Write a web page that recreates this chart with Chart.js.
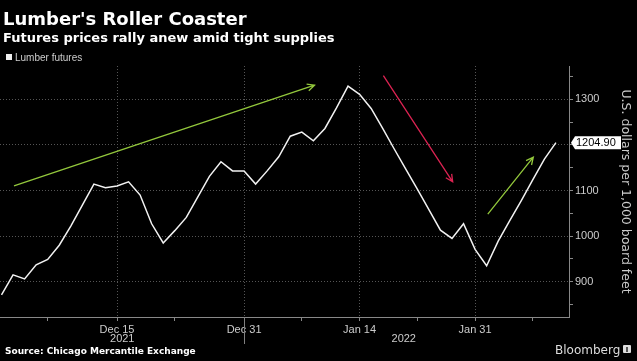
<!DOCTYPE html>
<html>
<head>
<meta charset="utf-8">
<script src="https://cdn.jsdelivr.net/npm/chart.js@4.4.0/dist/chart.umd.min.js"></script>
<style>
  html, body { margin: 0; padding: 0; background: #000; }
  #wrap { position: relative; width: 637px; height: 361px; overflow: hidden; background: #000; }
  #chart { position: absolute; left: 0; top: 0; }
  .txt { position: absolute; white-space: nowrap; line-height: 1; }
  #title { left: 3px; top: 8px; font: bold 18px "DejaVu Sans"; color: #fff; }
  #subtitle { left: 3px; top: 30px; font: bold 13px "DejaVu Sans"; color: #fff; }
  #legend { left: 15px; top: 52px; font: 10px "Liberation Sans"; color: #ccc; }
  #legend-box { position: absolute; left: 6px; top: 54px; width: 6px; height: 6px; background: #eee; }
  #source { left: 5px; top: 346px; font: bold 9px "DejaVu Sans"; color: #fff; }
  #brand { left: 555px; top: 343px; font: 12px "DejaVu Sans"; color: #ddd; }
  #logo { position: absolute; left: 623px; top: 345px; width: 8px; height: 8px; background: #ddd; border-radius: 1px; }
  #logo i { position: absolute; left: 3px; top: 2px; width: 2px; height: 5px; background: #555; }
</style>
</head>
<body>
<div id="wrap">
  <canvas id="chart" width="637" height="361"></canvas>
  <div class="txt" id="title">Lumber's Roller Coaster</div>
  <div class="txt" id="subtitle">Futures prices rally anew amid tight supplies</div>
  <div id="legend-box"></div>
  <div class="txt" id="legend">Lumber futures</div>
  <div class="txt" id="source">Source: Chicago Mercantile Exchange</div>
  <div class="txt" id="brand">Bloomberg</div>
  <div id="logo"><i></i></div>
</div>
<script>
// trading days, Dec 1 2021 -> Feb 9 2022
const DATES = [
  'Dec 1', 'Dec 2', 'Dec 3', 'Dec 6', 'Dec 7', 'Dec 8', 'Dec 9', 'Dec 10', 'Dec 13', 'Dec 14',
  'Dec 15', 'Dec 16', 'Dec 17', 'Dec 20', 'Dec 21', 'Dec 22', 'Dec 23', 'Dec 27', 'Dec 28', 'Dec 29',
  'Dec 30', 'Dec 31', 'Jan 3', 'Jan 4', 'Jan 5', 'Jan 6', 'Jan 7', 'Jan 10', 'Jan 11', 'Jan 12',
  'Jan 13', 'Jan 14', 'Jan 18', 'Jan 19', 'Jan 20', 'Jan 21', 'Jan 24', 'Jan 25', 'Jan 26', 'Jan 27',
  'Jan 28', 'Jan 31', 'Feb 1', 'Feb 2', 'Feb 3', 'Feb 4', 'Feb 7', 'Feb 8', 'Feb 9'
];

const PRICES = [
  871, 915, 906, 937, 949, 980, 1022, 1068, 1114, 1106,
  1110, 1119, 1090, 1027, 985, 1012, 1041, 1086, 1131, 1163,
  1143, 1143, 1114, 1143, 1174, 1219, 1228, 1209, 1236, 1281,
  1329, 1311, 1280, 1236, 1191, 1147, 1103, 1058, 1013, 995,
  1027, 971, 935, 989, 1034, 1078, 1124, 1169, 1204.90
];

const X_MAJOR = [10, 21, 31, 41];          // labelled dates
const X_MINOR = [4, 15, 26, 36, 46];
const YEARS = ['2021', '2022'];
const YEAR_SPLIT = 21;                     // Dec 31

const Y_TICKS = [850, 900, 950, 1000, 1050, 1100, 1150, 1200, 1250, 1300, 1350];
const Y_LABELS = [900, 1000, 1100, 1300];
const Y_GRID = [900, 1000, 1100, 1200, 1300];

// annotation arrows, in (day index, price)
const ARROW_FROM = [[1.08, 1110], [33.06, 1352], [42.1, 1048]];
const ARROW_TO = [[27.1, 1331], [39.06, 1119], [46.04, 1173]];
const ARROW_COLORS = ['#93c83c', '#dc2352', '#93c83c'];

const GREY = '#cccccc';

function drawArrow(ctx, x1, y1, x2, y2, color) {
  const a = Math.atan2(y2 - y1, x2 - x1);
  const h = 8, s = 0.45;
  ctx.strokeStyle = color;
  ctx.lineWidth = 1.3;
  ctx.beginPath();
  ctx.moveTo(x1, y1);
  ctx.lineTo(x2, y2);
  ctx.moveTo(x2 - h * Math.cos(a - s), y2 - h * Math.sin(a - s));
  ctx.lineTo(x2, y2);
  ctx.lineTo(x2 - h * Math.cos(a + s), y2 - h * Math.sin(a + s));
  ctx.stroke();
}

const overlay = {
  id: 'overlay',
  afterDraw(chart) {
    const { ctx, chartArea, scales } = chart;
    const { x, y } = scales;
    ctx.save();

    // arrows
    ARROW_FROM.forEach((p, i) => {
      const q = ARROW_TO[i];
      drawArrow(ctx, x.getPixelForValue(p[0]), y.getPixelForValue(p[1]),
        x.getPixelForValue(q[0]), y.getPixelForValue(q[1]), ARROW_COLORS[i]);
    });

    // year separator + year labels
    const sep = Math.round(x.getPixelForValue(YEAR_SPLIT)) + 0.5;
    ctx.strokeStyle = '#808080';
    ctx.lineWidth = 1;
    ctx.beginPath();
    ctx.moveTo(sep, chartArea.bottom);
    ctx.lineTo(sep, chartArea.bottom + 27);
    ctx.stroke();
    ctx.fillStyle = GREY;
    ctx.font = '11px "Liberation Sans"';
    ctx.textAlign = 'center';
    ctx.textBaseline = 'alphabetic';
    ctx.fillText(YEARS[0], (chartArea.left + sep) / 2, chartArea.bottom + 25);
    ctx.fillText(YEARS[1], (sep + chartArea.right) / 2 - 3, chartArea.bottom + 25);

    // last value tag
    const last = PRICES[PRICES.length - 1];
    const ty = y.getPixelForValue(last);
    const tx = chartArea.right + 2;
    ctx.fillStyle = '#fff';
    ctx.beginPath();
    ctx.moveTo(tx, ty);
    ctx.lineTo(tx + 4, ty - 6.5);
    ctx.lineTo(tx + 50, ty - 6.5);
    ctx.lineTo(tx + 50, ty + 6.5);
    ctx.lineTo(tx + 4, ty + 6.5);
    ctx.closePath();
    ctx.fill();
    ctx.fillStyle = '#000';
    ctx.textAlign = 'left';
    ctx.textBaseline = 'middle';
    ctx.fillText(last.toFixed(2), tx + 5, ty + 0.5);

    ctx.restore();
  }
};

new Chart(document.getElementById('chart'), {
  type: 'line',
  plugins: [overlay],
  data: {
    datasets: [{
      label: 'Lumber futures',
      data: PRICES.map((v, i) => ({ x: i, y: v })),
      borderColor: '#f2f2f2',
      borderWidth: 1.5,
      pointRadius: 0,
      tension: 0,
    }],
  },
  options: {
    responsive: false,
    animation: false,
    devicePixelRatio: 1,
    layout: { padding: { top: 66, left: 0, right: 0, bottom: 0 } },
    plugins: { legend: { display: false }, tooltip: { enabled: false } },
    scales: {
      x: {
        type: 'linear',
        position: 'bottom',
        min: -0.13,
        max: 49.13,
        afterBuildTicks: s => { s.ticks = X_MAJOR.concat(X_MINOR).sort((a, b) => a - b).map(v => ({ value: v })); },
        afterFit: s => { s.height = 44; },
        ticks: {
          autoSkip: false,
          maxRotation: 0,
          padding: 2,
          color: GREY,
          font: { family: 'Liberation Sans', size: 11 },
          callback: v => X_MAJOR.includes(v) ? DATES[v] : '',
        },
        grid: {
          color: c => X_MAJOR.includes(c.tick && c.tick.value) ? '#555' : 'rgba(0,0,0,0)',
          tickColor: '#888',
          tickLength: 4,
          lineWidth: 1,
        },
        border: { display: true, color: '#888', dash: [1, 2] },
      },
      y: {
        type: 'linear',
        position: 'right',
        min: 822.6,
        max: 1373,
        afterBuildTicks: s => { s.ticks = Y_TICKS.map(v => ({ value: v })); },
        afterFit: s => { s.width = 68; },
        ticks: {
          padding: 2,
          color: GREY,
          font: { family: 'Liberation Sans', size: 11 },
          callback: v => Y_LABELS.includes(v) ? String(v) : '',
        },
        grid: {
          color: c => Y_GRID.includes(c.tick && c.tick.value) ? '#555' : 'rgba(0,0,0,0)',
          tickColor: '#888',
          tickLength: 4,
          lineWidth: 1,
        },
        border: { display: true, color: '#888', dash: [1, 2] },
        title: {
          display: true,
          text: 'U.S. dollars per 1,000 board feet',
          color: GREY,
          font: { family: 'DejaVu Sans', size: 12.5 },
          padding: { top: 4, bottom: 0 },
        },
      },
    },
  },
});
</script>
</body>
</html>
